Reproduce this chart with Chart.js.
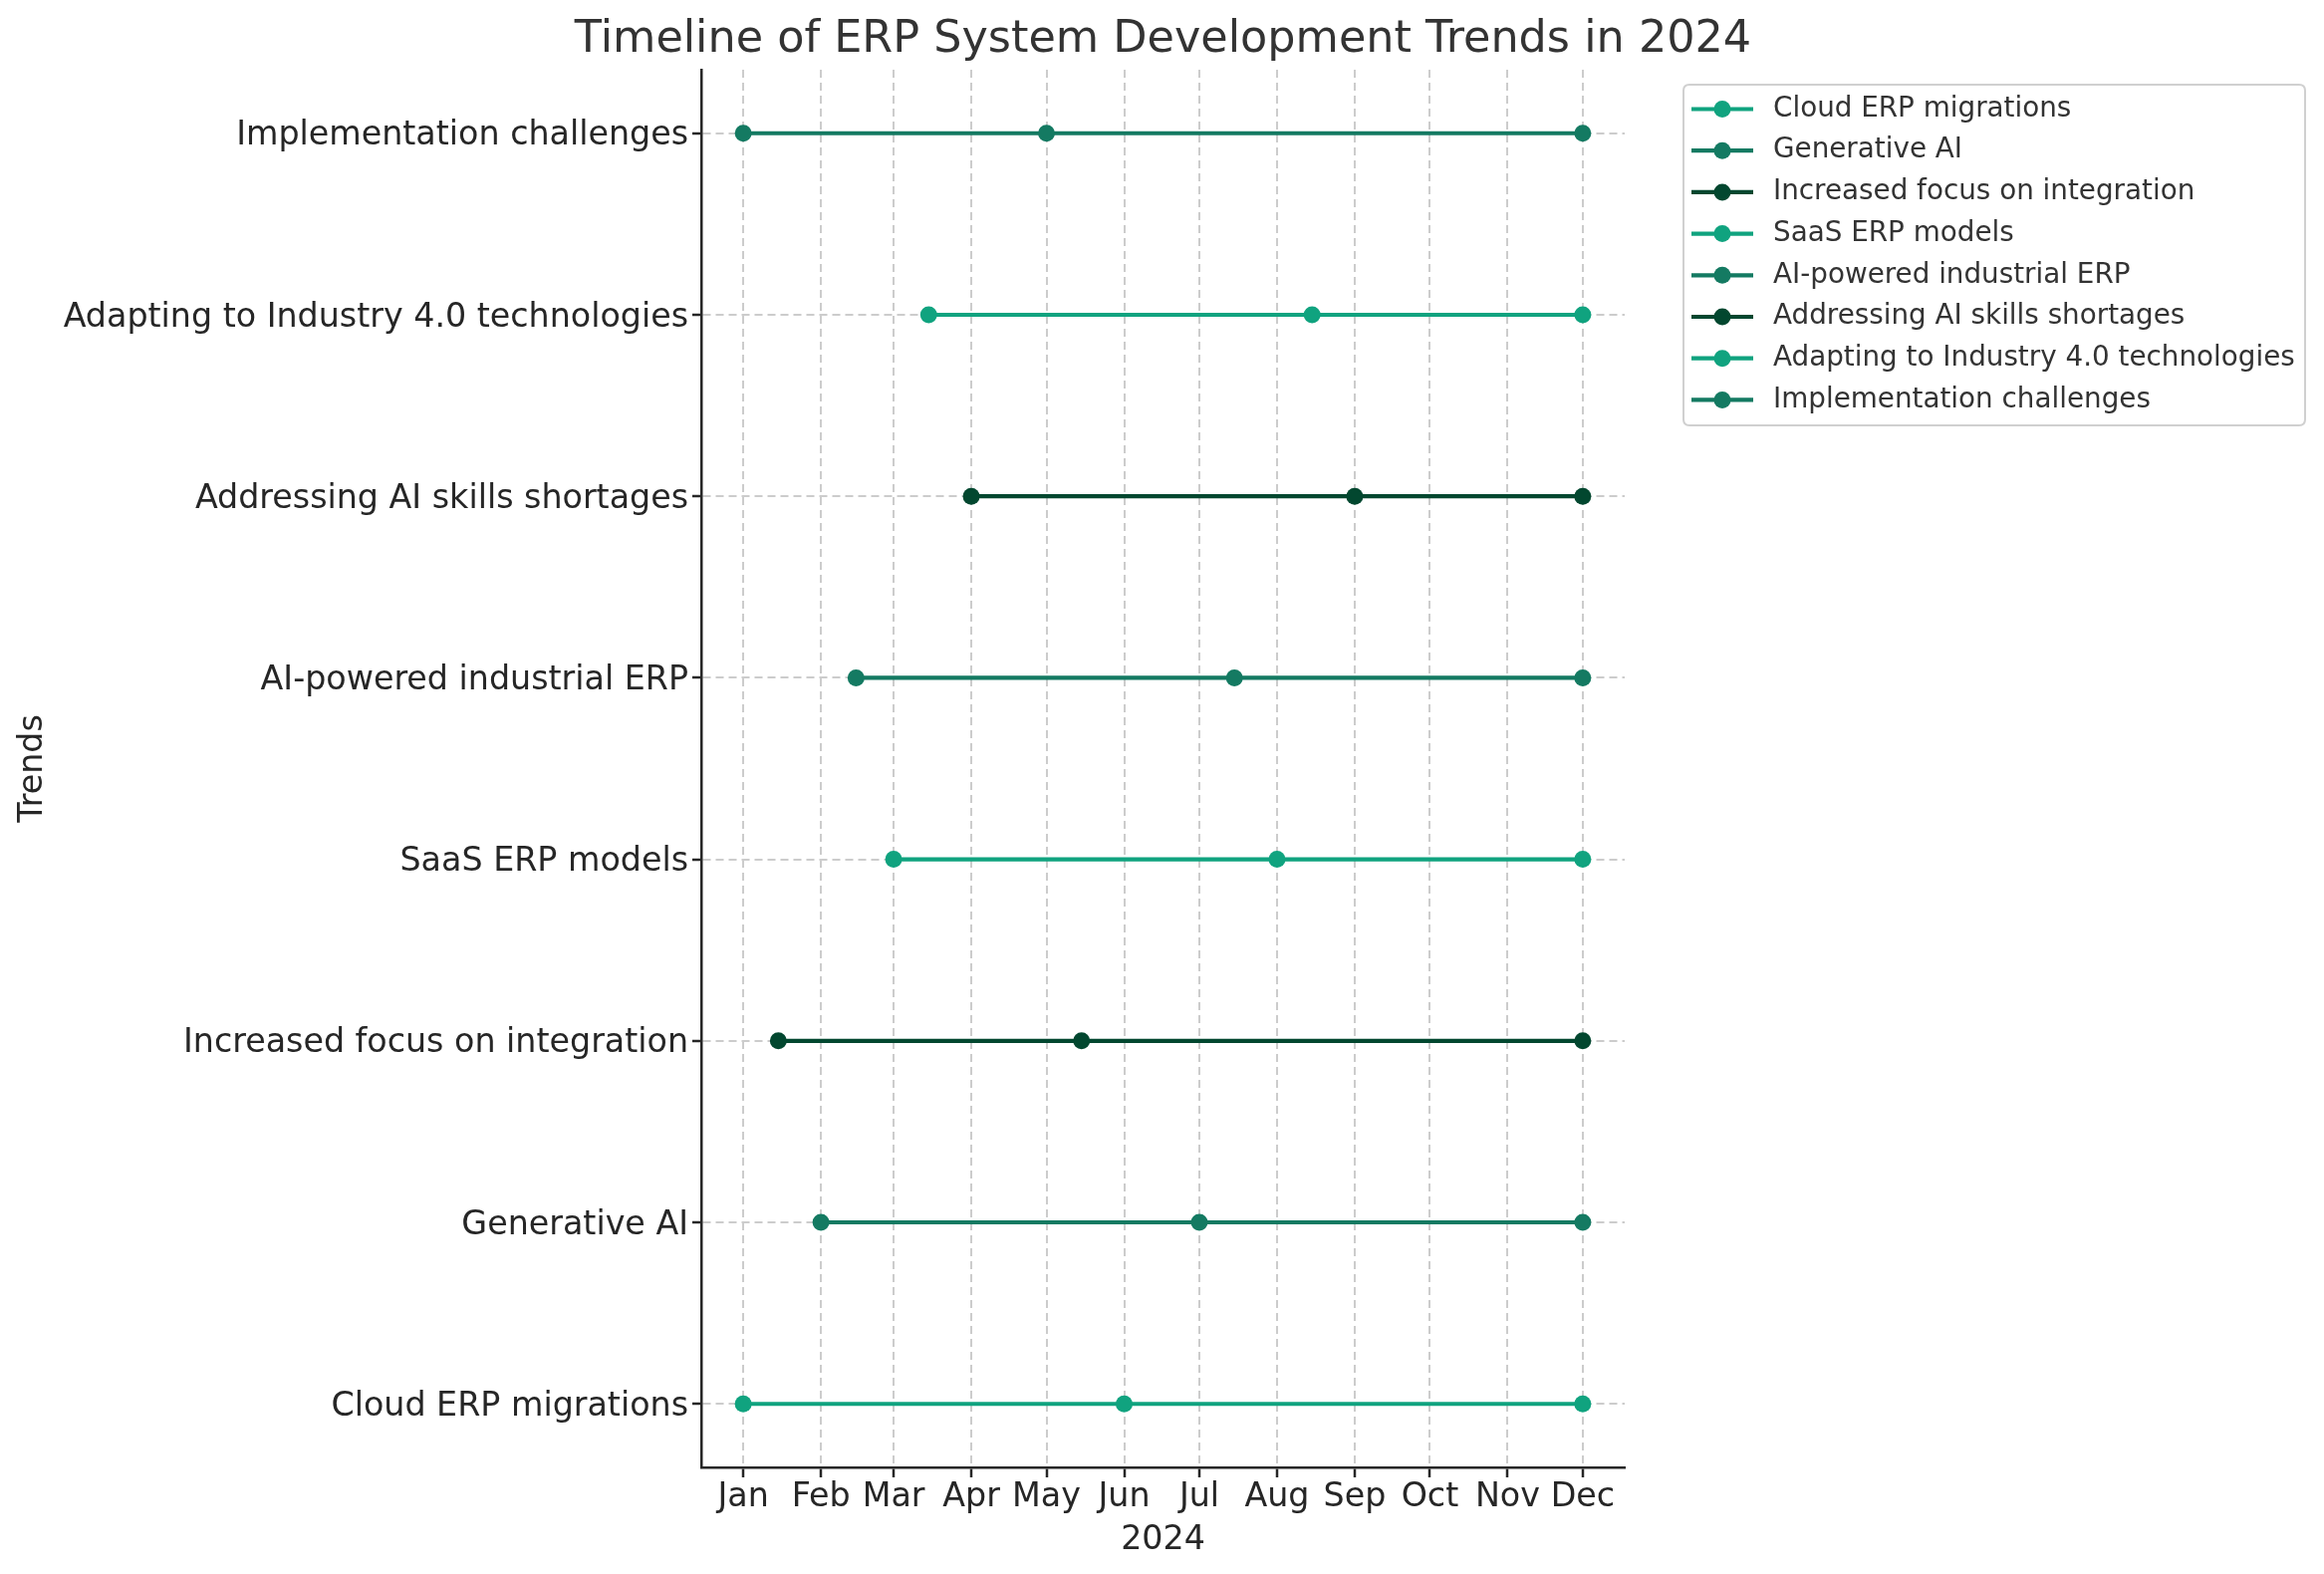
<!DOCTYPE html>
<html>
<head>
<meta charset="utf-8">
<script src="https://cdn.jsdelivr.net/npm/chart.js@4.4.1/dist/chart.umd.min.js"></script>
<style>
  html, body { margin: 0; padding: 0; background: #ffffff; }
  canvas { display: block; }
</style>
</head>
<body>
<canvas id="c" width="2333" height="1580" style="width:2333px;height:1580px"></canvas>
<script>
// ---- data ----
const trends = [
  'Cloud ERP migrations',
  'Generative AI',
  'Increased focus on integration',
  'SaaS ERP models',
  'AI-powered industrial ERP',
  'Addressing AI skills shortages',
  'Adapting to Industry 4.0 technologies',
  'Implementation challenges'
];
const startDates = ['2024-01-01','2024-02-01','2024-01-15','2024-03-01','2024-02-15','2024-04-01','2024-03-15','2024-01-01'];
const midDates   = ['2024-06-01','2024-07-01','2024-05-15','2024-08-01','2024-07-15','2024-09-01','2024-08-15','2024-05-01'];
const endDates   = ['2024-12-01','2024-12-01','2024-12-01','2024-12-01','2024-12-01','2024-12-01','2024-12-01','2024-12-01'];
const monthTicks = ['2024-01-01','2024-02-01','2024-03-01','2024-04-01','2024-05-01','2024-06-01','2024-07-01','2024-08-01','2024-09-01','2024-10-01','2024-11-01','2024-12-01'];
const monthLabels = ['Jan','Feb','Mar','Apr','May','Jun','Jul','Aug','Sep','Oct','Nov','Dec'];
const palette = ['#10a37f', '#147a62', '#02472f'];

// ---- helpers ----
function dayOf(s) {
  const p = s.split('-').map(Number);
  return (Date.UTC(p[0], p[1] - 1, p[2]) - Date.UTC(2024, 0, 1)) / 86400000;
}
const tickDays = monthTicks.map(dayOf);
const xSpan = tickDays[tickDays.length - 1] - tickDays[0];
const xMin = tickDays[0] - 0.05 * xSpan;
const xMax = tickDays[tickDays.length - 1] + 0.05 * xSpan;

const datasets = trends.map((name, i) => ({
  label: name,
  data: [startDates[i], midDates[i], endDates[i]].map(d => ({ x: dayOf(d), y: i })),
  borderColor: palette[i % 3],
  backgroundColor: palette[i % 3],
  pointBackgroundColor: palette[i % 3],
  pointBorderWidth: 0,
  pointRadius: 8.5,
  pointHoverRadius: 8.5,
  borderWidth: 4.2,
  showLine: true,
  fill: false,
  tension: 0
}));

Chart.defaults.font.family = "'DejaVu Sans', sans-serif";
Chart.defaults.color = '#262626';

const PLOT = { left: 704, right: 1631, top: 70, bottom: 1473 };
const W = 2333, H = 1580;

const decorPlugin = {
  id: 'decor',
  afterDraw(chart) {
    const ctx = chart.ctx;
    const area = chart.chartArea;
    // title
    ctx.save();
    ctx.fillStyle = '#333333';
    ctx.font = "44.5px 'DejaVu Sans'";
    ctx.textAlign = 'center';
    ctx.textBaseline = 'middle';
    ctx.fillText('Timeline of ERP System Development Trends in 2024', (area.left + area.right) / 2, 40);
    ctx.restore();

    // legend
    const bx = 1690, by = 85, bw = 624, bh = 342, r = 6;
    ctx.save();
    ctx.beginPath();
    ctx.moveTo(bx + r, by);
    ctx.lineTo(bx + bw - r, by);
    ctx.quadraticCurveTo(bx + bw, by, bx + bw, by + r);
    ctx.lineTo(bx + bw, by + bh - r);
    ctx.quadraticCurveTo(bx + bw, by + bh, bx + bw - r, by + bh);
    ctx.lineTo(bx + r, by + bh);
    ctx.quadraticCurveTo(bx, by + bh, bx, by + bh - r);
    ctx.lineTo(bx, by + r);
    ctx.quadraticCurveTo(bx, by, bx + r, by);
    ctx.closePath();
    ctx.fillStyle = 'rgba(255,255,255,0.8)';
    ctx.fill();
    ctx.strokeStyle = '#d0d0d0';
    ctx.lineWidth = 2;
    ctx.stroke();

    ctx.font = "27.8px 'DejaVu Sans'";
    ctx.textAlign = 'left';
    ctx.textBaseline = 'middle';
    chart.data.datasets.forEach((ds, i) => {
      const cy = 109.5 + i * 41.7;
      ctx.strokeStyle = ds.borderColor;
      ctx.lineWidth = 4.2;
      ctx.beginPath();
      ctx.moveTo(1698, cy);
      ctx.lineTo(1760, cy);
      ctx.stroke();
      ctx.fillStyle = ds.borderColor;
      ctx.beginPath();
      ctx.arc(1729, cy, 8.5, 0, Math.PI * 2);
      ctx.fill();
      ctx.fillStyle = '#333333';
      ctx.fillText(ds.label, 1780, cy);
    });
    ctx.restore();
  }
};

new Chart(document.getElementById('c'), {
  type: 'line',
  data: { datasets },
  options: {
    responsive: false,
    animation: false,
    devicePixelRatio: 1,
    layout: { padding: { left: 0, right: W - PLOT.right, top: PLOT.top, bottom: 0 } },
    plugins: {
      legend: { display: false },
      title: { display: false },
      tooltip: { enabled: false }
    },
    scales: {
      x: {
        type: 'linear',
        min: xMin,
        max: xMax,
        afterBuildTicks(scale) {
          scale.ticks = tickDays.map(v => ({ value: v }));
        },
        afterFit(scale) { scale.height = H - PLOT.bottom; },
        ticks: {
          autoSkip: false,
          maxRotation: 0,
          padding: 0,
          font: { size: 33.3 },
          color: '#262626',
          callback(value) {
            const idx = tickDays.indexOf(value);
            return idx >= 0 ? monthLabels[idx] : '';
          }
        },
        grid: {
          display: true,
          color: '#cccccc',
          lineWidth: 2,
          drawTicks: true,
          tickLength: 10,
          tickColor: '#262626',
          tickWidth: 2.5,
          tickBorderDash: []
        },
        border: { display: true, color: '#262626', width: 2.5, dash: [8, 5] },
        title: {
          display: true,
          text: '2024',
          font: { size: 33.3 },
          color: '#262626',
          padding: { top: 0, bottom: 14 }
        }
      },
      y: {
        type: 'linear',
        min: -0.35,
        max: trends.length - 1 + 0.35,
        afterBuildTicks(scale) {
          scale.ticks = trends.map((t, i) => ({ value: i }));
        },
        afterFit(scale) { scale.width = PLOT.left; },
        ticks: {
          autoSkip: false,
          padding: 4,
          labelOffset: 3,
          font: { size: 33.3 },
          color: '#262626',
          callback(value) {
            return Number.isInteger(value) && trends[value] !== undefined ? trends[value] : '';
          }
        },
        grid: {
          display: true,
          color: '#cccccc',
          lineWidth: 2,
          drawTicks: true,
          tickLength: 9,
          tickColor: '#262626',
          tickWidth: 2.5,
          tickBorderDash: []
        },
        border: { display: true, color: '#262626', width: 2.5, dash: [8, 5] },
        title: {
          display: true,
          text: 'Trends',
          font: { size: 33.3 },
          color: '#262626',
          padding: { top: 13, bottom: 0 }
        }
      }
    }
  },
  plugins: [decorPlugin]
});
</script>
</body>
</html>
